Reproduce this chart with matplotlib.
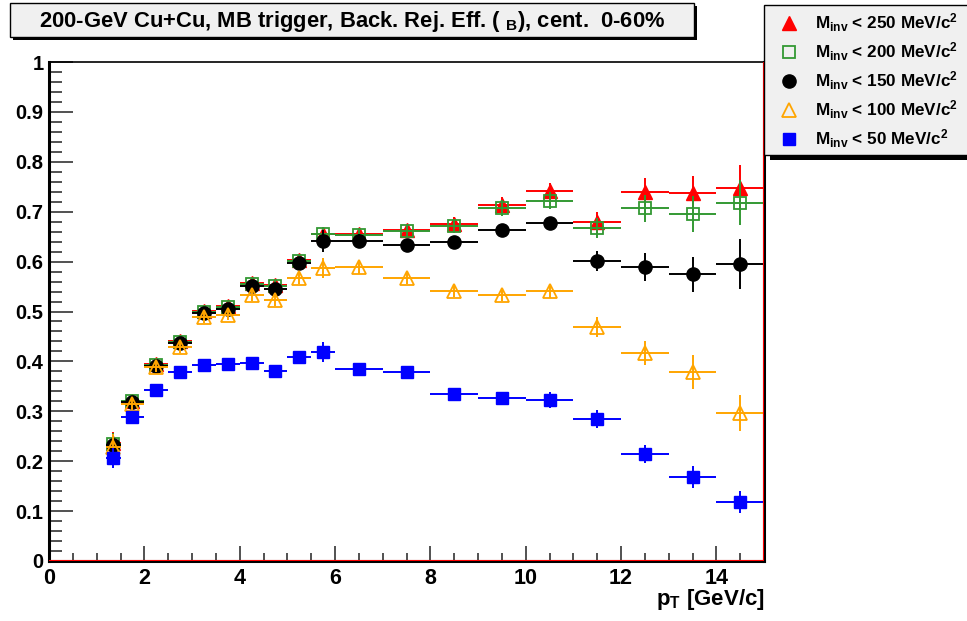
import matplotlib
matplotlib.use("Agg")
import matplotlib.pyplot as plt
from matplotlib.patches import Rectangle
from matplotlib.lines import Line2D
from matplotlib.ticker import MultipleLocator
import numpy as np

plt.rcParams['font.family'] = ['Liberation Sans', 'DejaVu Sans']
plt.rcParams['font.weight'] = 'bold'
plt.rcParams['mathtext.fontset'] = 'custom'
plt.rcParams['mathtext.rm'] = 'Liberation Sans:bold'
plt.rcParams['mathtext.it'] = 'Liberation Sans:bold'
plt.rcParams['mathtext.bf'] = 'Liberation Sans:bold'

# ---- data ----
bin_lo = [1.2, 1.5, 2.0, 2.5, 3.0, 3.5, 4.0, 4.5, 5.0, 5.5, 6, 7, 8, 9, 10, 11, 12, 13, 14]
bin_hi = [1.5, 2.0, 2.5, 3.0, 3.5, 4.0, 4.5, 5.0, 5.5, 6.0, 7, 8, 9, 10, 11, 12, 13, 14, 15]

eff_250 = [0.236, 0.321, 0.394, 0.440, 0.501, 0.511, 0.557, 0.553, 0.604, 0.656,
           0.656, 0.664, 0.675, 0.713, 0.741, 0.679, 0.739, 0.737, 0.747]
err_250 = [0.022, 0.012, 0.010, 0.010, 0.011, 0.011, 0.011, 0.011, 0.012, 0.014,
           0.012, 0.012, 0.014, 0.016, 0.017, 0.021, 0.028, 0.035, 0.046]

eff_200 = [0.235, 0.320, 0.393, 0.439, 0.500, 0.509, 0.556, 0.551, 0.602, 0.656,
           0.654, 0.661, 0.671, 0.707, 0.722, 0.667, 0.707, 0.695, 0.718]
err_200 = [0.022, 0.012, 0.010, 0.010, 0.011, 0.011, 0.011, 0.011, 0.012, 0.014,
           0.012, 0.012, 0.014, 0.016, 0.017, 0.020, 0.027, 0.036, 0.045]

eff_150 = [0.232, 0.318, 0.391, 0.437, 0.497, 0.505, 0.552, 0.546, 0.598, 0.641,
           0.641, 0.634, 0.639, 0.663, 0.677, 0.602, 0.590, 0.575, 0.595]
err_150 = [0.022, 0.012, 0.010, 0.010, 0.011, 0.011, 0.011, 0.011, 0.012, 0.022,
           0.014, 0.012, 0.012, 0.012, 0.012, 0.020, 0.028, 0.035, 0.050]

eff_100 = [0.228, 0.315, 0.388, 0.428, 0.488, 0.493, 0.533, 0.523, 0.567, 0.587,
           0.590, 0.568, 0.542, 0.534, 0.542, 0.468, 0.417, 0.379, 0.296]
err_100 = [0.026, 0.012, 0.010, 0.011, 0.011, 0.011, 0.011, 0.011, 0.012, 0.020,
           0.014, 0.012, 0.012, 0.012, 0.014, 0.020, 0.024, 0.034, 0.036]

eff_50 = [0.207, 0.289, 0.342, 0.379, 0.393, 0.395, 0.396, 0.381, 0.409, 0.419,
          0.384, 0.378, 0.335, 0.327, 0.323, 0.285, 0.215, 0.168, 0.119]
err_50 = [0.020, 0.010, 0.010, 0.009, 0.009, 0.010, 0.010, 0.010, 0.012, 0.020,
          0.009, 0.010, 0.010, 0.012, 0.016, 0.018, 0.018, 0.022, 0.022]

labels = [r"M$_{\mathrm{inv}}$ < 250 MeV/c$^{2}$",
          r"M$_{\mathrm{inv}}$ < 200 MeV/c$^{2}$",
          r"M$_{\mathrm{inv}}$ < 150 MeV/c$^{2}$",
          r"M$_{\mathrm{inv}}$ < 100 MeV/c$^{2}$",
          r"M$_{\mathrm{inv}}$ < 50 MeV/c$^{2}$"]

title = r"200-GeV Cu+Cu, MB trigger, Back. Rej. Eff. ( ${}_{\mathrm{B}}$), cent.  0-60%"
xlabel = r"p$_{\mathrm{T}}$ [GeV/c]"

# ---- styles ----
series = [
    (eff_250, err_250, dict(color='#ff0000', marker='^', mfc='#ff0000', mec='#ff0000', ms=9.5)),
    (eff_200, err_200, dict(color='#339933', marker='s', mfc='none', mec='#339933', ms=9, mew=1.3)),
    (eff_150, err_150, dict(color='#000000', marker='o', mfc='#000000', mec='#000000', ms=9.5)),
    (eff_100, err_100, dict(color='#ffa500', marker='^', mfc='none', mec='#ffa500', ms=10, mew=1.3)),
    (eff_50, err_50, dict(color='#0000ff', marker='s', mfc='#0000ff', mec='#0000ff', ms=8.5)),
]

W, H = 967, 621
fig = plt.figure(figsize=(W / 100, H / 100), dpi=100)
ax = fig.add_axes([49 / W, 1 - 561 / H, (764 - 49) / W, (561 - 62) / H])

lo = np.array(bin_lo)
hi = np.array(bin_hi)
xc = (lo + hi) / 2
xerr = (hi - lo) / 2

handles = []
for i, (y, e, st) in enumerate(series):
    st = dict(st)
    color = st.pop('color')
    ax.errorbar(xc, y, yerr=e, xerr=xerr, fmt='none', ecolor=color,
                elinewidth=1.4, capsize=0, zorder=3 + i)
    ax.plot(xc, y, linestyle='none', zorder=3.5 + i, **st)
    handles.append(st)

ax.set_xlim(0, 15)
ax.set_ylim(0, 1)
ax.axhline(0, color='red', lw=1.5, zorder=20)
ax.axvline(15, color='red', lw=1.5, zorder=20)

ax.xaxis.set_major_locator(MultipleLocator(2))
ax.xaxis.set_minor_locator(MultipleLocator(0.5))
ax.yaxis.set_minor_locator(MultipleLocator(0.02))
ax.set_yticks(np.arange(0, 1.01, 0.1))
ax.set_yticklabels(['0', '0.1', '0.2', '0.3', '0.4', '0.5', '0.6', '0.7', '0.8', '0.9', '1'])

ax.tick_params(axis='both', which='both', direction='in', top=False, right=False,
               color='#333333')
ax.tick_params(axis='y', which='major', length=17, width=1.2, labelsize=14.5, pad=4)
ax.tick_params(axis='y', which='minor', length=9, width=1.2)
ax.tick_params(axis='x', which='major', length=11, width=1.2, labelsize=15.5, pad=5)
ax.tick_params(axis='x', which='minor', length=6, width=1.2)
for lab in ax.get_xticklabels() + ax.get_yticklabels():
    lab.set_fontweight('bold')

ax.spines['left'].set_linewidth(2.2)
ax.spines['bottom'].set_linewidth(2.2)
ax.spines['right'].set_linewidth(2.2)
ax.spines['top'].set_linewidth(1.2)

fig.text(765 / W, 1 - 600 / H, xlabel, ha='right', va='center', fontsize=16,
         fontweight='bold')

# ---- title box ----
fig.add_artist(Rectangle((13 / W, 1 - 40 / H), (697 - 13) / W, (40 - 6) / H,
                         transform=fig.transFigure, facecolor='black',
                         edgecolor='none', zorder=1))
fig.add_artist(Rectangle((10 / W, 1 - 37 / H), (694 - 10) / W, (37 - 3) / H,
                         transform=fig.transFigure, facecolor='#f0f0f0',
                         edgecolor='black', lw=1.0, zorder=2))
fig.text(352 / W, 1 - 21 / H, title, ha='center', va='center', fontsize=15.8,
         fontweight='bold', zorder=3)

# ---- legend box ----
fig.add_artist(Rectangle((770 / W, 1 - 160 / H), (1000 - 770) / W, (160 - 9) / H,
                         transform=fig.transFigure, facecolor='black',
                         edgecolor='none', zorder=1))
fig.add_artist(Rectangle((764 / W, 1 - 155 / H), (1000 - 764) / W, (155 - 5) / H,
                         transform=fig.transFigure, facecolor='#f0f0f0',
                         edgecolor='black', lw=1.0, zorder=2))
leg_y0, leg_dy = 22.5, 29.0
for k, (st, lab) in enumerate(zip(handles, labels)):
    yy = 1 - (leg_y0 + k * leg_dy) / H
    fig.add_artist(Line2D([789 / W], [yy], transform=fig.transFigure,
                          linestyle='none', zorder=3, **st))
    fig.text(815 / W, yy, lab, ha='left', va='center', fontsize=12.3,
             fontweight='bold', zorder=3)

fig.savefig('out.png', dpi=100)
